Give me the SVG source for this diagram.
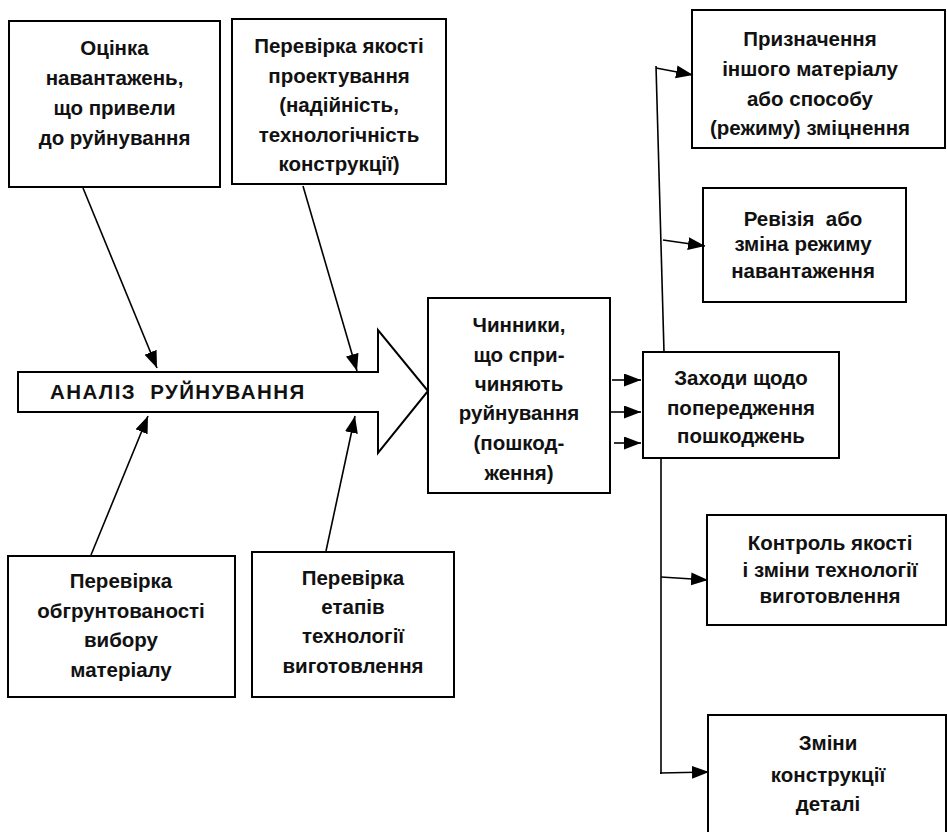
<svg xmlns="http://www.w3.org/2000/svg" width="947" height="832" viewBox="0 0 947 832">
  <style>
    .box { fill: #ffffff; stroke: #000000; stroke-width: 2; }
    .lbl { font-family: "Liberation Sans", Arial, sans-serif; font-weight: 700; font-size: 20.5px; fill: #111111; text-anchor: middle; white-space: pre; }
    .title { font-family: "Liberation Sans", Arial, sans-serif; font-weight: 700; font-size: 20.5px; fill: #111111; white-space: pre; }
    .wire { fill: none; stroke: #000000; stroke-width: 1.6; }
    .arr { fill: none; stroke: #000000; stroke-width: 1.6; marker-end: url(#head); }
  </style>
  <defs>
    <marker id="head" markerUnits="userSpaceOnUse" markerWidth="20" markerHeight="14" refX="17" refY="6.5" orient="auto">
      <path d="M0,0 L17,6.5 L0,13 Z" fill="#000000"/>
    </marker>
  </defs>
  <rect width="947" height="832" fill="#ffffff"/>

  <!-- central analysis arrow -->
  <g id="analysis">
    <path class="box" d="M18,372 L378,372 L378,330 L428,391 L378,453 L378,412 L18,412 Z"/>
    <text class="title" x="50" y="399" letter-spacing="1.4">АНАЛІЗ  РУЙНУВАННЯ</text>
  </g>

  <g id="loads">
    <rect class="box" x="9" y="21" width="211" height="166"/>
    <text class="lbl" x="114.5" y="55">Оцінка</text>
    <text class="lbl" x="114.5" y="85">навантажень,</text>
    <text class="lbl" x="114.5" y="115">що привели</text>
    <text class="lbl" x="114.5" y="145">до руйнування</text>
  </g>

  <g id="design-check">
    <rect class="box" x="232" y="19" width="214" height="165"/>
    <text class="lbl" x="339" y="53">Перевірка якості</text>
    <text class="lbl" x="339" y="83">проектування</text>
    <text class="lbl" x="339" y="112">(надійність,</text>
    <text class="lbl" x="339" y="142">технологічність</text>
    <text class="lbl" x="339" y="171">конструкції)</text>
  </g>

  <g id="material-check">
    <rect class="box" x="8" y="556" width="227" height="141"/>
    <text class="lbl" x="121" y="588">Перевірка</text>
    <text class="lbl" x="121" y="618">обгрунтованості</text>
    <text class="lbl" x="121" y="647">вибору</text>
    <text class="lbl" x="121" y="677">матеріалу</text>
  </g>

  <g id="process-check">
    <rect class="box" x="252" y="552" width="202" height="145"/>
    <text class="lbl" x="353" y="585">Перевірка</text>
    <text class="lbl" x="353" y="614">етапів</text>
    <text class="lbl" x="353" y="643">технології</text>
    <text class="lbl" x="353" y="673">виготовлення</text>
  </g>

  <g id="causes">
    <rect class="box" x="428" y="298" width="182" height="195"/>
    <text class="lbl" x="519" y="332">Чинники,</text>
    <text class="lbl" x="519" y="362">що спри-</text>
    <text class="lbl" x="519" y="391">чиняють</text>
    <text class="lbl" x="519" y="420">руйнування</text>
    <text class="lbl" x="519" y="450">(пошкод-</text>
    <text class="lbl" x="519" y="480">ження)</text>
  </g>

  <g id="measures">
    <rect class="box" x="643" y="352" width="196" height="106"/>
    <text class="lbl" x="741" y="385">Заходи щодо</text>
    <text class="lbl" x="741" y="415">попередження</text>
    <text class="lbl" x="741" y="443">пошкоджень</text>
  </g>

  <g id="material-change">
    <rect class="box" x="692" y="10" width="253" height="138"/>
    <text class="lbl" x="810" y="46">Призначення</text>
    <text class="lbl" x="810" y="76">іншого матеріалу</text>
    <text class="lbl" x="810" y="106">або способу</text>
    <text class="lbl" x="810" y="135">(режиму) зміцнення</text>
  </g>

  <g id="load-revision">
    <rect class="box" x="703" y="188" width="203" height="114"/>
    <text class="lbl" x="803" y="226">Ревізія  або</text>
    <text class="lbl" x="803" y="251">зміна режиму</text>
    <text class="lbl" x="803" y="278">навантаження</text>
  </g>

  <g id="quality-control">
    <rect class="box" x="707" y="515" width="239" height="110"/>
    <text class="lbl" x="830" y="550">Контроль якості</text>
    <text class="lbl" x="830" y="577">і зміни технології</text>
    <text class="lbl" x="830" y="603">виготовлення</text>
  </g>

  <g id="design-change">
    <rect class="box" x="708" y="715" width="238" height="125"/>
    <text class="lbl" x="828" y="750">Зміни</text>
    <text class="lbl" x="828" y="782">конструкції</text>
    <text class="lbl" x="828" y="811">деталі</text>
  </g>

  <g id="connectors">
    <line class="arr" x1="83" y1="188" x2="157" y2="368"/>
    <line class="arr" x1="303" y1="186" x2="357" y2="371"/>
    <line class="arr" x1="91" y1="555" x2="148" y2="416"/>
    <line class="arr" x1="326" y1="551" x2="355" y2="416"/>

    <line class="arr" x1="612" y1="380" x2="641" y2="380"/>
    <line class="arr" x1="610" y1="412" x2="641" y2="412"/>
    <line class="arr" x1="614" y1="443" x2="641" y2="443"/>

    <line class="wire" x1="664" y1="352" x2="656" y2="66"/>
    <line class="arr" x1="656" y1="68" x2="693" y2="75"/>
    <line class="arr" x1="663" y1="240" x2="705" y2="246"/>

    <line class="wire" x1="661" y1="458" x2="661" y2="774"/>
    <line class="arr" x1="661" y1="577" x2="708" y2="580"/>
    <line class="arr" x1="660" y1="773" x2="709" y2="772"/>
  </g>
</svg>
